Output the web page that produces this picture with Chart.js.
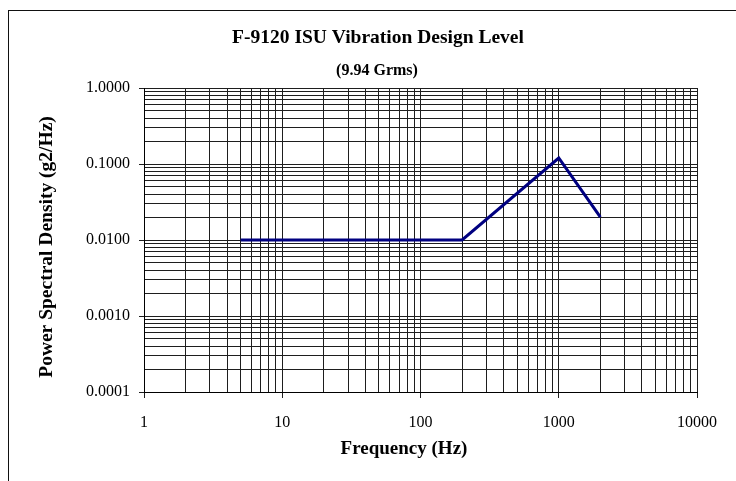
<!DOCTYPE html>
<html>
<head>
<meta charset="utf-8">
<script src="https://cdn.jsdelivr.net/npm/chart.js@4.4.1/dist/chart.umd.min.js"></script>
<style>
  html, body { margin: 0; padding: 0; background: #fff; overflow: hidden; }
  #wrap { position: relative; width: 736px; height: 481px; }
  #frame { position: absolute; left: 8px; top: 10px; width: 760px; height: 500px;
           border: 1px solid #111; box-sizing: border-box; pointer-events: none; }
  canvas { position: absolute; left: 0; top: 0; }
</style>
</head>
<body>
<div id="wrap">
  <canvas id="c" width="736" height="481"></canvas>
  <div id="frame"></div>
</div>
<script>
// ---- data ----
const chartTitle = 'F-9120 ISU Vibration Design Level';
const chartSubtitle = '(9.94 Grms)';
const xAxisTitle = 'Frequency (Hz)';
const yAxisTitle = 'Power Spectral Density (g2/Hz)';

const frequencies = [5, 200, 1000, 2000];
const psdValues = [0.01, 0.01, 0.12, 0.02];

const xMajorTicks = [1, 10, 100, 1000, 10000];
const xTickLabels = ['1', '10', '100', '1000', '10000'];
const yMajorTicks = [0.0001, 0.001, 0.01, 0.1, 1];
const yTickLabels = ['0.0001', '0.0010', '0.0100', '0.1000', '1.0000'];

// ---- helpers ----
function withMinors(majors) {
  const out = [];
  majors.forEach((m, i) => {
    out.push({ value: m, major: true, label: i });
    if (i < majors.length - 1) {
      for (let k = 2; k <= 9; k++) out.push({ value: m * k, major: false });
    }
  });
  return out;
}

const FONT = '"Liberation Serif", "Times New Roman", serif';

const textPlugin = {
  id: 'texts',
  afterDraw(chart) {
    const ctx = chart.ctx;
    ctx.save();
    ctx.fillStyle = '#000';
    ctx.textAlign = 'center';
    ctx.textBaseline = 'middle';
    ctx.font = 'bold 19.5px ' + FONT;
    ctx.fillText(chartTitle, 378, 38);
    ctx.font = 'bold 16px ' + FONT;
    ctx.fillText(chartSubtitle, 377, 71);
    ctx.font = 'bold 19px ' + FONT;
    ctx.fillText(xAxisTitle, 404, 449);
    ctx.font = 'bold 19.5px ' + FONT;
    ctx.translate(47, 247);
    ctx.rotate(-Math.PI / 2);
    ctx.fillText(yAxisTitle, 0, 0);
    ctx.restore();
  }
};

const gridColor = '#1e1e1e';

new Chart(document.getElementById('c'), {
  type: 'line',
  data: {
    datasets: [{
      data: frequencies.map((f, i) => ({ x: f, y: psdValues[i] })),
      borderColor: '#000080',
      borderWidth: 3,
      pointRadius: 0,
      tension: 0,
      fill: false
    }]
  },
  options: {
    responsive: false,
    animation: false,
    events: [],
    layout: { padding: { left: 0, top: 88, right: 39, bottom: 0 } },
    plugins: { legend: { display: false }, title: { display: false }, tooltip: { enabled: false } },
    scales: {
      x: {
        type: 'logarithmic',
        min: 1, max: 10000,
        afterBuildTicks: s => { s.ticks = withMinors(xMajorTicks); },
        afterFit: s => { s.height = 89; },
        ticks: {
          autoSkip: false, maxRotation: 0, minRotation: 0, padding: 15,
          color: '#000', font: { family: FONT, size: 16 },
          callback: function (v, i, ticks) {
            const t = ticks[i];
            return t.major ? xTickLabels[t.label] : '';
          }
        },
        grid: {
          color: gridColor, lineWidth: 1, drawTicks: true, tickLength: 6,
          tickColor: ctx => (ctx.tick && ctx.tick.major) ? gridColor : 'rgba(0,0,0,0)'
        },
        border: { display: true, color: '#000', width: 1 }
      },
      y: {
        type: 'logarithmic',
        min: 0.0001, max: 1,
        afterBuildTicks: s => { s.ticks = withMinors(yMajorTicks); },
        afterFit: s => { s.width = 144; },
        ticks: {
          autoSkip: false, padding: 9,
          color: '#000', font: { family: FONT, size: 16 },
          callback: function (v, i, ticks) {
            const t = ticks[i];
            return t.major ? yTickLabels[t.label] : '';
          }
        },
        grid: {
          color: gridColor, lineWidth: 1, drawTicks: true, tickLength: 5,
          tickColor: ctx => (ctx.tick && ctx.tick.major) ? gridColor : 'rgba(0,0,0,0)'
        },
        border: { display: true, color: '#000', width: 1 }
      }
    }
  },
  plugins: [textPlugin]
});
</script>
</body>
</html>
